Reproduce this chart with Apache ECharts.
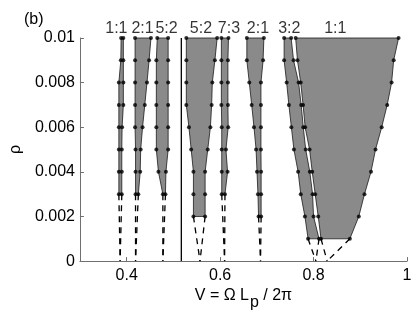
<!DOCTYPE html>
<html><head><meta charset="utf-8">
<script src="https://cdn.jsdelivr.net/npm/echarts@6/dist/echarts.min.js"></script>
<style>html,body{margin:0;padding:0;background:#fff}#c{width:415px;height:316px}</style>
</head><body><div id="c"></div>
<script>
const rhoLevels = [0.01,0.009,0.008,0.007,0.006,0.005,0.004,0.003,0.002,0.001];
const xTicks = [0.4,0.6,0.8,1];
const yTicks = [0,0.002,0.004,0.006,0.008,0.01];
const tongueNames = ['1:1','2:1','5:2','5:2','7:3','2:1','3:2','1:1'];
const labelX = [0.378,0.434,0.4854,0.559,0.619,0.681,0.748,0.8465];
// boundaries of each tongue, from rho = 0.01 downward
const t1Left  = [0.3881,0.3875,0.3833,0.3833,0.3833,0.3833,0.3833,0.3833];
const t1Right = [0.3929,0.3929,0.3929,0.3929,0.3902,0.3896,0.3896,0.3896];
const t2Left  = [0.418,0.418,0.418,0.418,0.418,0.419,0.419,0.419];
const t2Right = [0.452,0.448,0.4435,0.4388,0.434,0.430,0.429,0.425];
const t3Left  = [0.4655,0.4635,0.4635,0.4635,0.4635,0.4635,0.468,0.4775];
const t3Right = [0.4888,0.4888,0.4888,0.4888,0.4888,0.4888,0.484,0.483];
const t4Left  = [0.5277,0.5277,0.5277,0.5277,0.5333,0.5381,0.5429,0.5429,0.5429];
const t4Right = [0.5937,0.5888,0.5833,0.5819,0.5792,0.5735,0.5679,0.5679,0.5679];
const t5Left  = [0.6027,0.6027,0.6027,0.6027,0.6035,0.6035,0.6035,0.6035];
const t5Right = [0.6179,0.6167,0.6167,0.6167,0.6173,0.6125,0.616,0.6104];
const t6Left  = [0.6572,0.6572,0.6625,0.6676,0.6725,0.677,0.679,0.681,0.6823];
const t6Right = [0.6937,0.692,0.6874,0.6874,0.6874,0.6874,0.6878,0.6878,0.6878];
const t7Left  = [0.737,0.737,0.7424,0.7472,0.7525,0.758,0.767,0.7726,0.7815,0.7883];
const t7Right = [0.752,0.7572,0.768,0.7735,0.778,0.7832,0.792,0.7979,0.800,0.8117];
const t8Left  = [0.7617,0.7656,0.7725,0.7776,0.782,0.7915,0.7972,0.8035,0.81,0.816];
const t8Right = [0.982,0.9715,0.967,0.9576,0.9458,0.9326,0.9229,0.909,0.8968,0.8777];
const tipX = [0.386,0.419,0.4775,0.557,0.6096,0.6865,0.805,0.829];
const separatrixX = 0.517;

const tongues = [[t1Left,t1Right],[t2Left,t2Right],[t3Left,t3Right],[t4Left,t4Right],
                 [t5Left,t5Right],[t6Left,t6Right],[t7Left,t7Right],[t8Left,t8Right]];
const FONT = "'Liberation Sans', Arial, sans-serif";
const AX = '#707070';

const dots = [];
tongues.forEach(([L,R]) => {
  L.forEach((x,k) => dots.push([x, rhoLevels[k]]));
  R.forEach((x,k) => dots.push([x, rhoLevels[k]]));
});

const chart = echarts.init(document.getElementById('c'), null, {renderer:'canvas'});
chart.setOption({
  animation:false,
  backgroundColor:'#fff',
  title:{text:'(b)', left:19, top:7, padding:5, textStyle:{fontSize:16, fontWeight:'normal', color:'#000', fontFamily:FONT}},
  grid:{left:73, right:8, top:38, bottom:54, containLabel:false},
  xAxis:{type:'value', min:0.3, max:1,
    name:'{a|V = Ω L}{p|p}{a| / 2π}', nameLocation:'middle', nameGap:17,
    nameTextStyle:{rich:{
      a:{fontSize:16, verticalAlign:'top', color:'#000', fontFamily:FONT},
      p:{fontSize:16, verticalAlign:'top', padding:[7,0,0,1], color:'#000', fontFamily:FONT}}},
    axisLine:{show:true, onZero:false, lineStyle:{color:AX, width:1}},
    axisTick:{show:true, inside:true, length:4, customValues:xTicks, lineStyle:{color:AX}},
    axisLabel:{customValues:xTicks, fontSize:16, color:'#000', margin:6, fontFamily:FONT},
    splitLine:{show:false}},
  yAxis:{type:'value', min:0, max:0.01, interval:0.002,
    name:'ρ', nameLocation:'middle', nameRotate:90, nameGap:46,
    nameTextStyle:{fontSize:16, color:'#000', fontFamily:FONT},
    axisLine:{show:true, onZero:false, lineStyle:{color:AX, width:1}},
    axisTick:{show:true, inside:true, length:4, lineStyle:{color:AX}},
    axisLabel:{fontSize:16, color:'#000', margin:5, fontFamily:FONT},
    splitLine:{show:false}},
  series:[
    {type:'custom', z:2, clip:false,
     data: tongues.map(t => [t[0][0], rhoLevels[0]]),
     renderItem:(params, api) => {
       const [L,R] = tongues[params.dataIndex];
       const pts = [];
       for (let k=0;k<L.length;k++) pts.push(api.coord([L[k], rhoLevels[k]]));
       for (let k=R.length-1;k>=0;k--) pts.push(api.coord([R[k], rhoLevels[k]]));
       return {type:'polygon', shape:{points:pts}, style:{fill:'#8a8a8a', stroke:'#1a1a1a', lineWidth:0.8}};
     }},
    {type:'custom', z:2, clip:false,
     data: tongues.map((t,i) => [tipX[i], 0]),
     renderItem:(params, api) => {
       const i = params.dataIndex;
       const [L,R] = tongues[i];
       const n = L.length-1;
       const tip = api.coord([tipX[i], 0]);
       const a = api.coord([L[n], rhoLevels[n]]);
       const b = api.coord([R[n], rhoLevels[n]]);
       const st = {stroke:'#000', lineWidth:1.3, lineDash:[6,5], fill:null};
       return {type:'group', children:[
         {type:'line', shape:{x1:a[0],y1:a[1],x2:tip[0],y2:tip[1]}, style:st},
         {type:'line', shape:{x1:b[0],y1:b[1],x2:tip[0],y2:tip[1]}, style:st}]};
     }},
    {type:'line', z:3, data:[[separatrixX,0],[separatrixX,0.01]], symbol:'none',
     lineStyle:{color:'#000', width:1.3}},
    {type:'scatter', z:4, data:dots, symbol:'circle', symbolSize:4,
     itemStyle:{color:'#000'}},
    {type:'scatter', z:5, clip:false, symbolSize:0,
     data: labelX.map((x,i) => ({value:[x, 0.01], name:tongueNames[i]})),
     label:{show:true, position:'top', distance:1, formatter:p => p.name,
            fontSize:16, color:'#000', fontFamily:FONT}}
  ]
});
</script></body></html>
